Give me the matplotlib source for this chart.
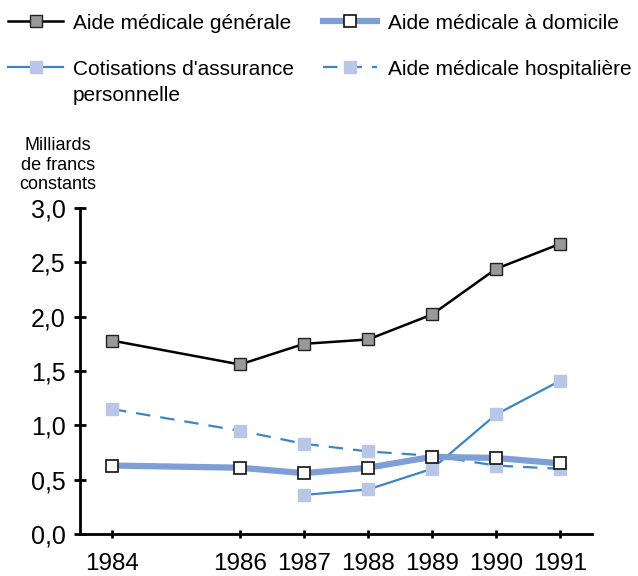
import numpy as np
import matplotlib.pyplot as plt

plt.rcParams['font.family'] = ['Liberation Sans', 'DejaVu Sans']

#----- données (milliards de francs constants)
annees = [1984, 1986, 1987, 1988, 1989, 1990, 1991]
generale = [1.78, 1.56, 1.75, 1.79, 2.02, 2.44, 2.67]
domicile = [0.63, 0.61, 0.56, 0.61, 0.71, 0.70, 0.65]
annees_cotis = [1987, 1988, 1989, 1990, 1991]
cotisations = [0.36, 0.41, 0.60, 1.10, 1.41]
hospitaliere = [1.15, 0.95, 0.83, 0.76, 0.72, 0.63, 0.60]
yticks = [0.0, 0.5, 1.0, 1.5, 2.0, 2.5, 3.0]

bleu = '#3b86c9'
bleu_clair = '#b8c6e8'
bleu_epais = '#7f9ed6'

fig = plt.figure(figsize=(6.38, 5.76), dpi=100)
ax = fig.add_axes([0.1254, 0.0729, 0.8026, 0.566])

#----- courbes
l1, = ax.plot(annees, generale, '-s', color='black', lw=1.8, ms=8,
              mfc='#999999', mec='#222222', mew=1.0, zorder=5,
              label='Aide médicale générale')
l4, = ax.plot(annees, hospitaliere, 's', color=bleu, ls=(0, (6.5, 4.5)), lw=1.6,
              ms=8, mfc=bleu_clair, mec=bleu_clair, zorder=2,
              label='Aide médicale hospitalière')
l3, = ax.plot(annees_cotis, cotisations, '-s', color=bleu, lw=1.6, ms=8,
              mfc=bleu_clair, mec=bleu_clair, zorder=3,
              label="Cotisations d'assurance")
l2, = ax.plot(annees, domicile, '-s', color=bleu_epais, lw=4.5, ms=9,
              mfc='white', mec='#111111', mew=1.2, zorder=4,
              label='Aide médicale à domicile')

#----- axes
ax.set_xlim(1983.5, 1991.5)
ax.set_ylim(0, 3.0)
ax.set_xticks(annees)
ax.set_xticklabels([str(a) for a in annees])
ax.set_yticks(yticks)
ax.set_yticklabels([('%.1f' % v).replace('.', ',') for v in yticks])
for s in ['top', 'right']:
    ax.spines[s].set_visible(False)
for s in ['left', 'bottom']:
    ax.spines[s].set_linewidth(2.0)
ax.tick_params(axis='y', direction='inout', length=9, width=2, labelsize=18, pad=6)
ax.tick_params(axis='x', direction='inout', length=6, width=2, labelsize=17.5, pad=11)

fig.text(0.091, 0.762, 'Milliards\nde francs\nconstants', ha='center', va='top',
         fontsize=13, linespacing=1.2)

#----- légende
leg = fig.legend(handles=[l1, l3, l2, l4], ncol=2, loc='upper left',
                 bbox_to_anchor=(-0.008, 1.0), frameon=False, fontsize=15,
                 numpoints=1, handlelength=2.6, handletextpad=0.5,
                 columnspacing=1.4, labelspacing=1.3, borderaxespad=0.25)

# deuxième ligne du libellé "Cotisations" sous la première
fig.canvas.draw()
bb = leg.get_texts()[1].get_window_extent()
x0, y0 = fig.transFigure.inverted().transform((bb.x0, bb.y0))
fig.text(x0, y0 - 26 / 576, 'personnelle', fontsize=15, ha='left', va='bottom')

plt.savefig('out.png', dpi=100)
